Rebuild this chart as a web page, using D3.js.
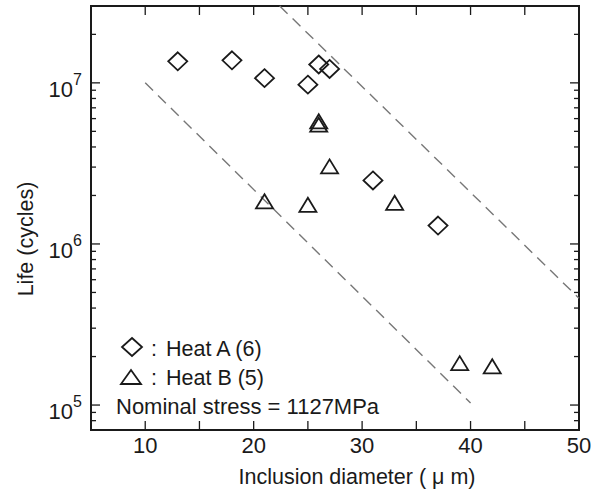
<!DOCTYPE html>
<html><head><meta charset="utf-8">
<script src="https://cdn.jsdelivr.net/npm/d3@7"></script>
<style>
html,body{margin:0;padding:0;background:#fff;}
svg{display:block;font-family:"Liberation Sans",Arial,Helvetica,sans-serif;}
</style></head>
<body><svg id="c" width="606" height="491"></svg>
<script>
// ---- data ----
const heatA_d    = [13, 18, 21, 26, 27, 25, 31, 37];
const heatA_life = [1.36e7, 1.38e7, 1.07e7, 1.30e7, 1.22e7, 9.75e6, 2.48e6, 1.30e6];
const heatB_d    = [26, 26, 27, 21, 25, 33, 39, 42];
const heatB_life = [5.77e6, 5.50e6, 3.03e6, 1.84e6, 1.75e6, 1.80e6, 1.82e5, 1.74e5];
const lowerLine_d = [10, 40];
const lowerLine_life = [1e7, 1.03e5];
const upperLine_d = [22.4, 50];
const upperLine_life = [3e7, 4.6e5];
const xTicks = [10, 20, 30, 40, 50];
const xMinorTicks = [5, 10, 15, 20, 25, 30, 35, 40, 45, 50];
const yMajorExp = [5, 6, 7];
const legendLabels = ["Heat A (6)", "Heat B (5)"];
const noteText = "Nominal stress = 1127MPa";
const xTitle = "Inclusion diameter ( \u03bc m)";
const yTitle = "Life (cycles)";

// ---- layout ----
const L = 91, R = 579, T = 6, B = 430;
const svg = d3.select("#c");
const x = d3.scaleLinear().domain([5, 50]).range([L, R]);
const y = d3.scaleLog().domain([7e4, 3e7]).range([B, T]);
const ink = "#1a1a1a";

// frame
svg.append("rect").attr("x", L).attr("y", T).attr("width", R - L).attr("height", B - T)
  .attr("fill", "none").attr("stroke", ink).attr("stroke-width", 2);

// x ticks (top & bottom, inward)
const tx = svg.append("g").attr("stroke", ink).attr("stroke-width", 1.3);
xMinorTicks.forEach(v => {
  if (v <= 5 || v >= 50) return;
  tx.append("line").attr("x1", x(v)).attr("x2", x(v)).attr("y1", B).attr("y2", B - 9);
  tx.append("line").attr("x1", x(v)).attr("x2", x(v)).attr("y1", T).attr("y2", T + 9);
});
// y ticks (left & right, inward)
const yTickVals = [];
for (let e = 4; e <= 7; e++) for (let m = 1; m <= 9; m++) {
  const v = m * Math.pow(10, e);
  if (v > 7e4 && v < 3e7) yTickVals.push({v, major: m === 1});
}
yTickVals.forEach(t => {
  const len = t.major ? 9 : 5;
  tx.append("line").attr("x1", L).attr("x2", L + len).attr("y1", y(t.v)).attr("y2", y(t.v));
  tx.append("line").attr("x1", R).attr("x2", R - len).attr("y1", y(t.v)).attr("y2", y(t.v));
});

// x tick labels
svg.append("g").selectAll("text").data(xTicks).join("text")
  .attr("x", d => x(d)).attr("y", B + 23).attr("text-anchor", "middle")
  .attr("font-size", 22).attr("fill", ink).text(d => d);

// y tick labels
yMajorExp.forEach(e => {
  const t = svg.append("text").attr("x", 82).attr("y", y(Math.pow(10, e)) + 14)
    .attr("text-anchor", "end").attr("fill", ink);
  t.append("tspan").attr("font-size", 22).text("10");
  t.append("tspan").attr("font-size", 16).attr("dy", -12).text(e);
});

// axis titles
svg.append("text").attr("x", (L + R) / 2 + 22).attr("y", 484).attr("text-anchor", "middle")
  .attr("font-size", 21.5).attr("fill", ink).text(xTitle);
svg.append("text").attr("transform", "translate(33,239) rotate(-90)").attr("text-anchor", "middle")
  .attr("font-size", 21.5).attr("fill", ink).text(yTitle);

// dashed lines
const line = d3.line().x(d => x(d[0])).y(d => y(d[1]));
[[lowerLine_d, lowerLine_life], [upperLine_d, upperLine_life]].forEach(([ds, ls]) => {
  svg.append("path").datum(ds.map((d, i) => [d, ls[i]])).attr("d", line)
    .attr("fill", "none").attr("stroke", "#777").attr("stroke-width", 1.4)
    .attr("stroke-dasharray", "11,7");
});

// marker shapes
const diamond = (w, h) => `M0,${-h/2}L${w/2},0L0,${h/2}L${-w/2},0Z`;
const triangle = (w, h) => `M0,${-h/2}L${w/2},${h/2}L${-w/2},${h/2}Z`;

svg.append("g").selectAll("path").data(heatA_d.map((d, i) => [d, heatA_life[i]])).join("path")
  .attr("transform", d => `translate(${x(d[0])},${y(d[1])})`)
  .attr("d", diamond(19, 18)).attr("fill", "none").attr("stroke", ink).attr("stroke-width", 1.8);
svg.append("g").selectAll("path").data(heatB_d.map((d, i) => [d, heatB_life[i]])).join("path")
  .attr("transform", d => `translate(${x(d[0])},${y(d[1])})`)
  .attr("d", triangle(17, 14)).attr("fill", "none").attr("stroke", ink).attr("stroke-width", 1.8);

// legend
const lg = svg.append("g");
lg.append("path").attr("transform", "translate(132,347)").attr("d", diamond(20, 18))
  .attr("fill", "none").attr("stroke", ink).attr("stroke-width", 1.8);
lg.append("path").attr("transform", "translate(131,377)").attr("d", triangle(20, 14))
  .attr("fill", "none").attr("stroke", ink).attr("stroke-width", 1.8);
[356, 385].forEach((by, i) => {
  lg.append("text").attr("x", 151).attr("y", by).attr("font-size", 21.5).attr("fill", ink).text(":");
  lg.append("text").attr("x", 166).attr("y", by).attr("font-size", 21.5).attr("fill", ink).text(legendLabels[i]);
});
lg.append("text").attr("x", 116).attr("y", 414).attr("font-size", 22).attr("fill", ink).text(noteText);
</script></body></html>
